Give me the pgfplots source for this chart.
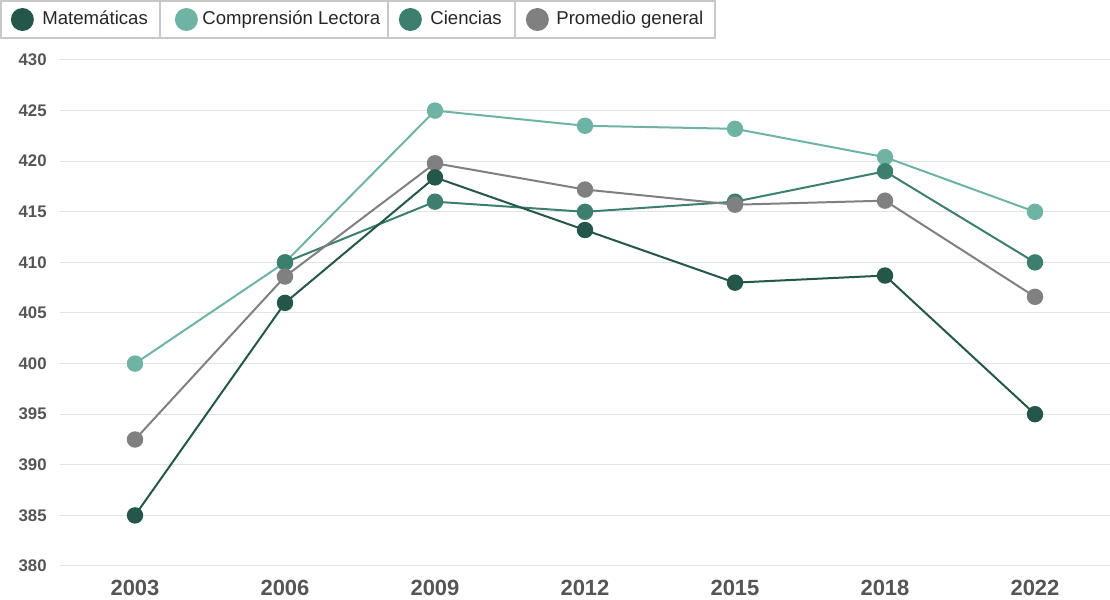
\documentclass[border=0pt]{standalone}
\usepackage{fontspec}
\setmainfont{Liberation Sans}
\usepackage{pgfplots}
\pgfplotsset{compat=1.18}

\definecolor{mate}{HTML}{24574A}
\definecolor{lect}{HTML}{6FB3A5}
\definecolor{cien}{HTML}{3D7F6E}
\definecolor{prom}{HTML}{808080}
\definecolor{ticktext}{HTML}{555555}
\definecolor{gridgray}{HTML}{E3E3E3}
\definecolor{framegray}{HTML}{C8C8C8}

\pgfplotsset{
  serie/.style={line width=1pt, mark=*, mark size=3.6pt,
    mark options={solid, fill=#1, draw=#1}, color=#1, forget plot},
  dot/.style n args={3}{legend image code/.code={%
    \path[draw=none, fill=none] (-#2,-9pt) rectangle (#3,9pt);
    \fill[#1, draw=none] (0,0) circle (5.75pt);}},
}

\begin{document}
\begin{tikzpicture}
\useasboundingbox (0,0) rectangle (555pt,300pt);
\begin{axis}[
  at={(30pt,17pt)}, anchor=south west,
  width=525pt, height=253pt, scale only axis,
  xmin=-0.5, xmax=6.5, ymin=380, ymax=430,
  xtick={0,...,6},
  xticklabels={2003,2006,2009,2012,2015,2018,2022},
  ytick={380,385,...,430},
  axis line style={draw=none},
  major tick style={draw=none},
  ymajorgrids, grid style={gridgray, line width=0.5pt},
  /pgf/number format/assume math mode=true,
  yticklabel style={font=\fontsize{8.4}{10}\selectfont\bfseries, text=ticktext,
    anchor=east, inner sep=0pt, xshift=-6.5pt},
  xticklabel style={font=\fontsize{11}{13}\selectfont\bfseries, text=ticktext,
    anchor=north, inner sep=0pt, yshift=-6.75pt},
  legend columns=4,
  legend cell align=left,
  legend style={at={(-0.05714,1.0800)}, anchor=west, draw=none, fill=none,
    inner sep=0pt, nodes={inner sep=0pt, draw=none}, column sep=0pt,
    font=\fontsize{9.3}{11}\selectfont, text=black!85},
]
% legend in the reference's order
\addlegendimage{dot={mate}{11pt}{10pt}}
\addlegendentry{\makebox[59pt][l]{Matemáticas}}
\addlegendimage{dot={lect}{13pt}{8pt}}
\addlegendentry{\makebox[93pt][l]{Comprensión Lectora}}
\addlegendimage{dot={cien}{11pt}{10pt}}
\addlegendentry{\makebox[42.5pt][l]{Ciencias}}
\addlegendimage{dot={prom}{11pt}{9.5pt}}
\addlegendentry{\makebox[79.5pt][l]{Promedio general}}

% drawing order as in the reference
\addplot[serie=lect] coordinates {
  (0,400) (1,410) (2,425) (3,423.5) (4,423.2) (5,420.4) (6,415)
};
\addplot[serie=cien] coordinates {
  (1,410) (2,416) (3,415) (4,416) (5,419) (6,410)
};
\addplot[serie=prom] coordinates {
  (0,392.5) (1,408.6) (2,419.8) (3,417.2) (4,415.7) (5,416.1) (6,406.6)
};
\addplot[serie=mate] coordinates {
  (0,385) (1,406) (2,418.4) (3,413.2) (4,408) (5,408.7) (6,395)
};
\end{axis}
% legend cell frames
\draw[framegray, line width=0.75pt] (0.5pt,281pt) rectangle (80pt,299.5pt);
\draw[framegray, line width=0.75pt] (80pt,281pt) rectangle (194pt,299.5pt);
\draw[framegray, line width=0.75pt] (194pt,281pt) rectangle (257.5pt,299.5pt);
\draw[framegray, line width=0.75pt] (257.5pt,281pt) rectangle (357.5pt,299.5pt);
\end{tikzpicture}
\end{document}
